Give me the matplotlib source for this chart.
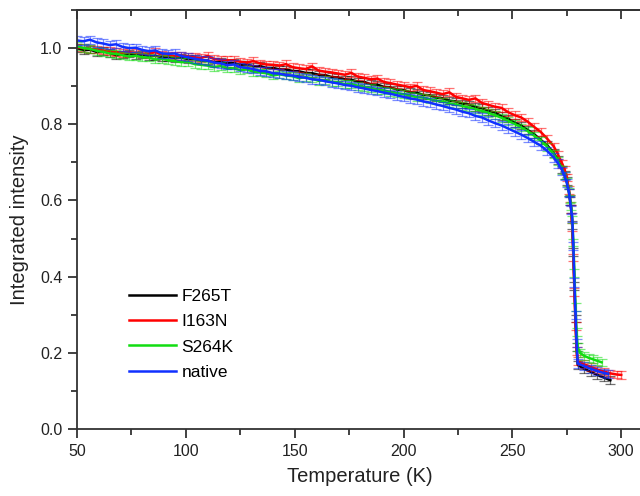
import numpy as np
import matplotlib
matplotlib.use("Agg")
import matplotlib.pyplot as plt
from matplotlib.ticker import MultipleLocator

plt.rcParams['font.family'] = ['Liberation Sans', 'DejaVu Sans']

# shared temperature grid (K) for the main part of the curves
temp = [50, 53, 56, 59, 62, 65, 68, 71, 74, 77, 80, 83, 86, 89, 92, 95, 98, 101, 104, 107,
        110, 113, 116, 119, 122, 125, 128, 131, 134, 137, 140, 143, 146, 149, 152, 155, 158,
        161, 164, 167, 170, 173, 176, 179, 182, 185, 188, 191, 194, 197, 200, 203, 206, 209,
        212, 215, 218, 221, 224, 227, 230, 233, 236, 239, 242, 245, 248, 251, 254, 257, 260,
        263, 266, 269, 271, 273, 274, 275, 276, 276.5, 277, 277.5, 278, 278.5, 279, 279.5]

f265t = [1.000, 0.994, 0.996, 0.990, 0.992, 0.987, 0.981, 0.983, 0.986, 0.981, 0.983, 0.979,
         0.980, 0.976, 0.977, 0.973, 0.975, 0.971, 0.971, 0.967, 0.967, 0.963, 0.964, 0.960,
         0.961, 0.956, 0.957, 0.952, 0.953, 0.948, 0.948, 0.944, 0.944, 0.940, 0.939, 0.935,
         0.934, 0.930, 0.929, 0.924, 0.923, 0.918, 0.917, 0.912, 0.911, 0.905, 0.904, 0.898,
         0.897, 0.891, 0.890, 0.884, 0.883, 0.877, 0.876, 0.870, 0.868, 0.862, 0.860, 0.854,
         0.852, 0.845, 0.842, 0.835, 0.831, 0.821, 0.815, 0.804, 0.797, 0.785, 0.774, 0.759,
         0.745, 0.724, 0.706, 0.681, 0.667, 0.651, 0.621, 0.598, 0.578, 0.535, 0.465, 0.375,
         0.290, 0.215]
i163n = [1.002, 1.000, 0.998, 0.996, 0.994, 0.992, 0.990, 0.987, 0.989, 0.988, 0.986, 0.984,
         0.990, 0.982, 0.981, 0.979, 0.980, 0.978, 0.976, 0.974, 0.980, 0.971, 0.969, 0.968,
         0.968, 0.964, 0.962, 0.966, 0.960, 0.957, 0.956, 0.954, 0.958, 0.950, 0.947, 0.945,
         0.952, 0.941, 0.938, 0.936, 0.933, 0.930, 0.935, 0.925, 0.922, 0.918, 0.920, 0.911,
         0.908, 0.904, 0.901, 0.897, 0.901, 0.890, 0.887, 0.883, 0.879, 0.884, 0.872, 0.868,
         0.864, 0.868, 0.856, 0.851, 0.846, 0.843, 0.832, 0.824, 0.818, 0.807, 0.793, 0.780,
         0.762, 0.742, 0.720, 0.695, 0.680, 0.660, 0.628, 0.605, 0.578, 0.530, 0.450, 0.360,
         0.270, 0.205]
s264k = [1.005, 1.000, 0.998, 0.993, 0.990, 0.986, 0.985, 0.981, 0.978, 0.980, 0.976, 0.975,
         0.970, 0.972, 0.968, 0.966, 0.963, 0.964, 0.958, 0.956, 0.954, 0.950, 0.953, 0.946,
         0.947, 0.942, 0.944, 0.938, 0.936, 0.934, 0.928, 0.931, 0.928, 0.926, 0.921, 0.924,
         0.920, 0.914, 0.916, 0.911, 0.910, 0.905, 0.906, 0.901, 0.897, 0.896, 0.890, 0.889,
         0.884, 0.882, 0.879, 0.876, 0.871, 0.870, 0.866, 0.862, 0.860, 0.855, 0.852, 0.848,
         0.844, 0.840, 0.835, 0.830, 0.824, 0.817, 0.809, 0.801, 0.792, 0.782, 0.770, 0.757,
         0.741, 0.722, 0.703, 0.680, 0.666, 0.648, 0.622, 0.604, 0.585, 0.550, 0.490, 0.410,
         0.320, 0.255]
native = [1.020, 1.018, 1.022, 1.015, 1.012, 1.008, 1.010, 1.003, 1.000, 1.001, 0.995, 0.992,
          0.994, 0.986, 0.985, 0.986, 0.979, 0.976, 0.972, 0.969, 0.967, 0.962, 0.960, 0.955,
          0.957, 0.950, 0.948, 0.945, 0.940, 0.939, 0.934, 0.933, 0.929, 0.928, 0.924, 0.922,
          0.918, 0.917, 0.913, 0.910, 0.907, 0.903, 0.901, 0.897, 0.894, 0.890, 0.887, 0.883,
          0.880, 0.876, 0.872, 0.868, 0.865, 0.860, 0.857, 0.852, 0.848, 0.843, 0.839, 0.833,
          0.829, 0.822, 0.818, 0.810, 0.803, 0.797, 0.789, 0.781, 0.773, 0.764, 0.754, 0.744,
          0.730, 0.713, 0.697, 0.678, 0.664, 0.646, 0.620, 0.600, 0.575, 0.555, 0.480, 0.385,
          0.300, 0.225]

# tails above the transition, measured to different end temperatures
f265t_tail_t = [280, 283, 286, 289, 292, 295]
f265t_tail = [0.168, 0.158, 0.150, 0.142, 0.135, 0.128]
i163n_tail_t = [280, 283, 286, 289, 292, 295, 298, 300]
i163n_tail = [0.178, 0.170, 0.163, 0.156, 0.151, 0.146, 0.143, 0.142]
s264k_tail_t = [280, 281, 283, 285, 287, 289, 291]
s264k_tail = [0.215, 0.200, 0.192, 0.187, 0.183, 0.179, 0.175]
native_tail_t = [280, 283, 286, 289, 292, 294]
native_tail = [0.172, 0.165, 0.158, 0.152, 0.147, 0.145]

errs = [0.010, 0.010, 0.010, 0.011]
labels = ['F265T', 'I163N', 'S264K', 'native']
colors = ['#000000', '#ff0000', '#11dd11', '#1030ff']

series = [(f265t, f265t_tail_t, f265t_tail), (i163n, i163n_tail_t, i163n_tail),
          (s264k, s264k_tail_t, s264k_tail), (native, native_tail_t, native_tail)]

fig = plt.figure(figsize=(6.4, 4.96), dpi=100)
ax = fig.add_axes([77/640, 1 - 429/496, 566/640, 419/496])

for (main, tt, tv), err, lab, c in zip(series, errs, labels, colors):
    x = np.array(temp + tt)
    y = np.array(main + tv)
    ax.errorbar(x, y, yerr=err, fmt='none', ecolor=c, elinewidth=0.9,
                capsize=3.5, capthick=0.9, alpha=0.55)
    ax.plot(x, y, color=c, lw=1.8, label=lab)

ax.set_xlim(50, 310)
ax.set_ylim(0, 1.1)
ax.xaxis.set_major_locator(MultipleLocator(50))
ax.xaxis.set_minor_locator(MultipleLocator(25))
ax.yaxis.set_major_locator(MultipleLocator(0.2))
ax.yaxis.set_minor_locator(MultipleLocator(0.1))
ax.yaxis.set_major_formatter(plt.FormatStrFormatter('%.1f'))

spc = '#333333'
for s in ax.spines.values():
    s.set_linewidth(1.3)
    s.set_color(spc)
ax.spines['right'].set_visible(False)
ax.tick_params(which='both', direction='out', color=spc, width=1.3, labelsize=11.5,
               pad=4, labelcolor='#222222')
ax.tick_params(which='major', length=6.5)
ax.tick_params(which='minor', length=4)

top = ax.secondary_xaxis('top')
top.xaxis.set_major_locator(MultipleLocator(50))
top.xaxis.set_minor_locator(MultipleLocator(25))
top.tick_params(which='both', direction='in', color=spc, width=1.3, labeltop=False)
top.tick_params(which='major', length=6.5)
top.tick_params(which='minor', length=4)
top.spines['top'].set_linewidth(1.3)
top.spines['top'].set_color(spc)

ax.set_xlabel('Temperature (K)', fontsize=14.5, labelpad=6, color='#222222')
ax.set_ylabel('Integrated intensity', fontsize=14.5, labelpad=8, color='#222222')

ax.legend(loc='upper left', bbox_to_anchor=(0.079, 0.35), frameon=False,
          fontsize=12.5, handlelength=2.7, handletextpad=0.35, labelspacing=0.57,
          borderaxespad=0)

fig.savefig('out.png', dpi=100)
